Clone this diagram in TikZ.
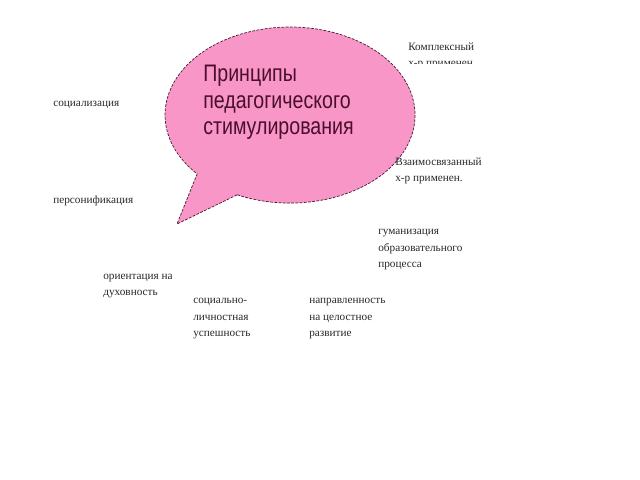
\documentclass[tikz,border=0pt]{standalone}
\usepackage{fontspec}
\setmainfont{Liberation Serif}
\newfontfamily\titlefont[FakeStretch=0.82]{Liberation Sans}
\newfontfamily\labelfont{Liberation Serif}
\definecolor{bubblepink}{RGB}{249,150,200}
\definecolor{bubbleline}{RGB}{70,25,45}
\definecolor{titletext}{RGB}{75,15,45}
\definecolor{labeltext}{RGB}{40,40,40}

\begin{document}
\begin{tikzpicture}[x=0.025cm,y=0.025cm,
    lbl/.style={anchor=base west,inner sep=0pt,align=left,color=labeltext,
      font=\labelfont\fontsize{8}{11.7}\selectfont},
    ttl/.style={anchor=base west,inner sep=0pt,align=left,color=titletext,
      font=\titlefont\fontsize{17}{18.9}\selectfont}]
  \useasboundingbox (0,0) rectangle (640,480);
  % speech bubble
  \draw[fill=bubblepink,draw=bubbleline,dash pattern=on 2pt off 1pt,line width=0.5pt]
    (237.2,285.2) arc[start angle=245,end angle=582,x radius=125,y radius=88]
    -- (177,256) -- cycle;
  \node[ttl] (title) at (203,345) {Принципы\\педагогического\\стимулирования};
  % labels round the bubble (anchored at their last line)
  \begin{scope}
    \clip (400,480) rectangle (520,416);
    \node[lbl] (complex) at (408,413.5) {Комплексный\\х-р применен};
  \end{scope}
  \node[lbl] (social) at (53,373.5) {социализация};
  \node[lbl] (linked) at (395,298.5) {Взаимосвязанный\\х-р применен.};
  \node[lbl] (person) at (53,276.5) {персонификация};
  \node[lbl] (human) at (378,212.5) {гуманизация\\образовательного\\процесса};
  \node[lbl] (spirit) at (103,184.5) {ориентация на\\духовность};
  \node[lbl] (success) at (193,143.5) {социально-\\личностная\\успешность};
  \node[lbl] (whole) at (309,143.5) {направленность\\на целостное\\развитие};
\end{tikzpicture}
\end{document}
